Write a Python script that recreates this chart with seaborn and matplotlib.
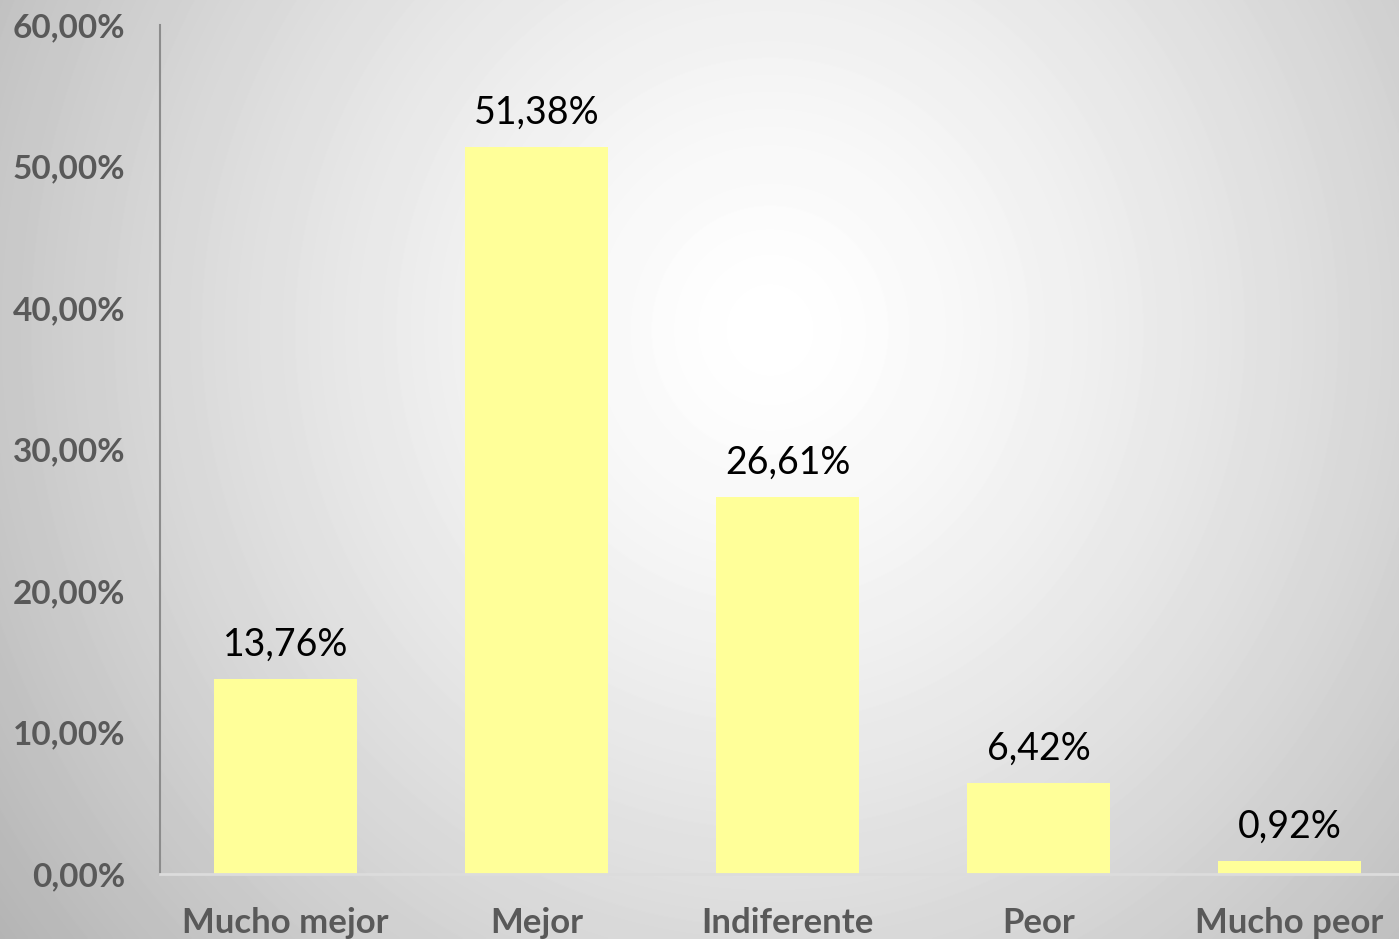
import matplotlib
matplotlib.use('Agg')
import matplotlib.pyplot as plt
import seaborn as sns
import numpy as np
import pandas as pd

categorias = ['Mucho mejor', 'Mejor', 'Indiferente', 'Peor', 'Mucho peor']
porcentajes = [13.76, 51.38, 26.61, 6.42, 0.92]
ticks_y = [0, 10, 20, 30, 40, 50, 60]


def fmt(v):
    return f'{v:.2f}%'.replace('.', ',')


sns.set_theme(style='white')
plt.rcParams['font.family'] = ['Lato', 'DejaVu Sans']

W, H = 1399, 939
fig = plt.figure(figsize=(W / 100, H / 100), dpi=100)

# fondo con degradado radial (blanco al centro, gris en los bordes)
bg = fig.add_axes([0, 0, 1, 1], zorder=0)
yy, xx = np.mgrid[0:H, 0:W]
r = np.sqrt((xx - 770) ** 2 + ((yy - 330) / 1.05) ** 2) / 840
val = np.clip(255 - 62 * r ** 1.4, 150, 255) / 255
bg.imshow(val, cmap='gray', vmin=0, vmax=1, aspect='auto', interpolation='bilinear')
bg.axis('off')

ax = fig.add_axes([160 / W, 1 - 874 / H, 1 - 160 / W, 849 / H], zorder=1)
ax.patch.set_alpha(0)

df = pd.DataFrame({'cat': categorias, 'pct': porcentajes})
sns.barplot(data=df, x='cat', y='pct', color='#FFFF99', saturation=1,
            width=0.57, ax=ax)
for p in ax.patches:
    p.set_edgecolor('none')

ax.bar_label(ax.containers[0], labels=[fmt(v) for v in porcentajes],
             padding=12, fontsize=27, color='black')

ax.set_ylim(0, 60)
ax.set_xlim(-0.5, 4.436)
ax.set_yticks(ticks_y)
ax.set_yticklabels([fmt(v) for v in ticks_y], fontsize=24, fontweight='bold',
                   color='#595959')
ax.tick_params(axis='y', length=0, pad=25)
ax.tick_params(axis='x', length=0, pad=24, labelsize=25, labelcolor='#595959')
for t in ax.get_xticklabels():
    t.set_fontweight('bold')
ax.set_xlabel('')
ax.set_ylabel('')

for s in ['top', 'right']:
    ax.spines[s].set_visible(False)
ax.spines['left'].set_color('#8c8c8c')
ax.spines['left'].set_linewidth(1.5)
ax.spines['bottom'].set_color('#dcdcdc')
ax.spines['bottom'].set_linewidth(2)

fig.savefig('out.png', dpi=100)
